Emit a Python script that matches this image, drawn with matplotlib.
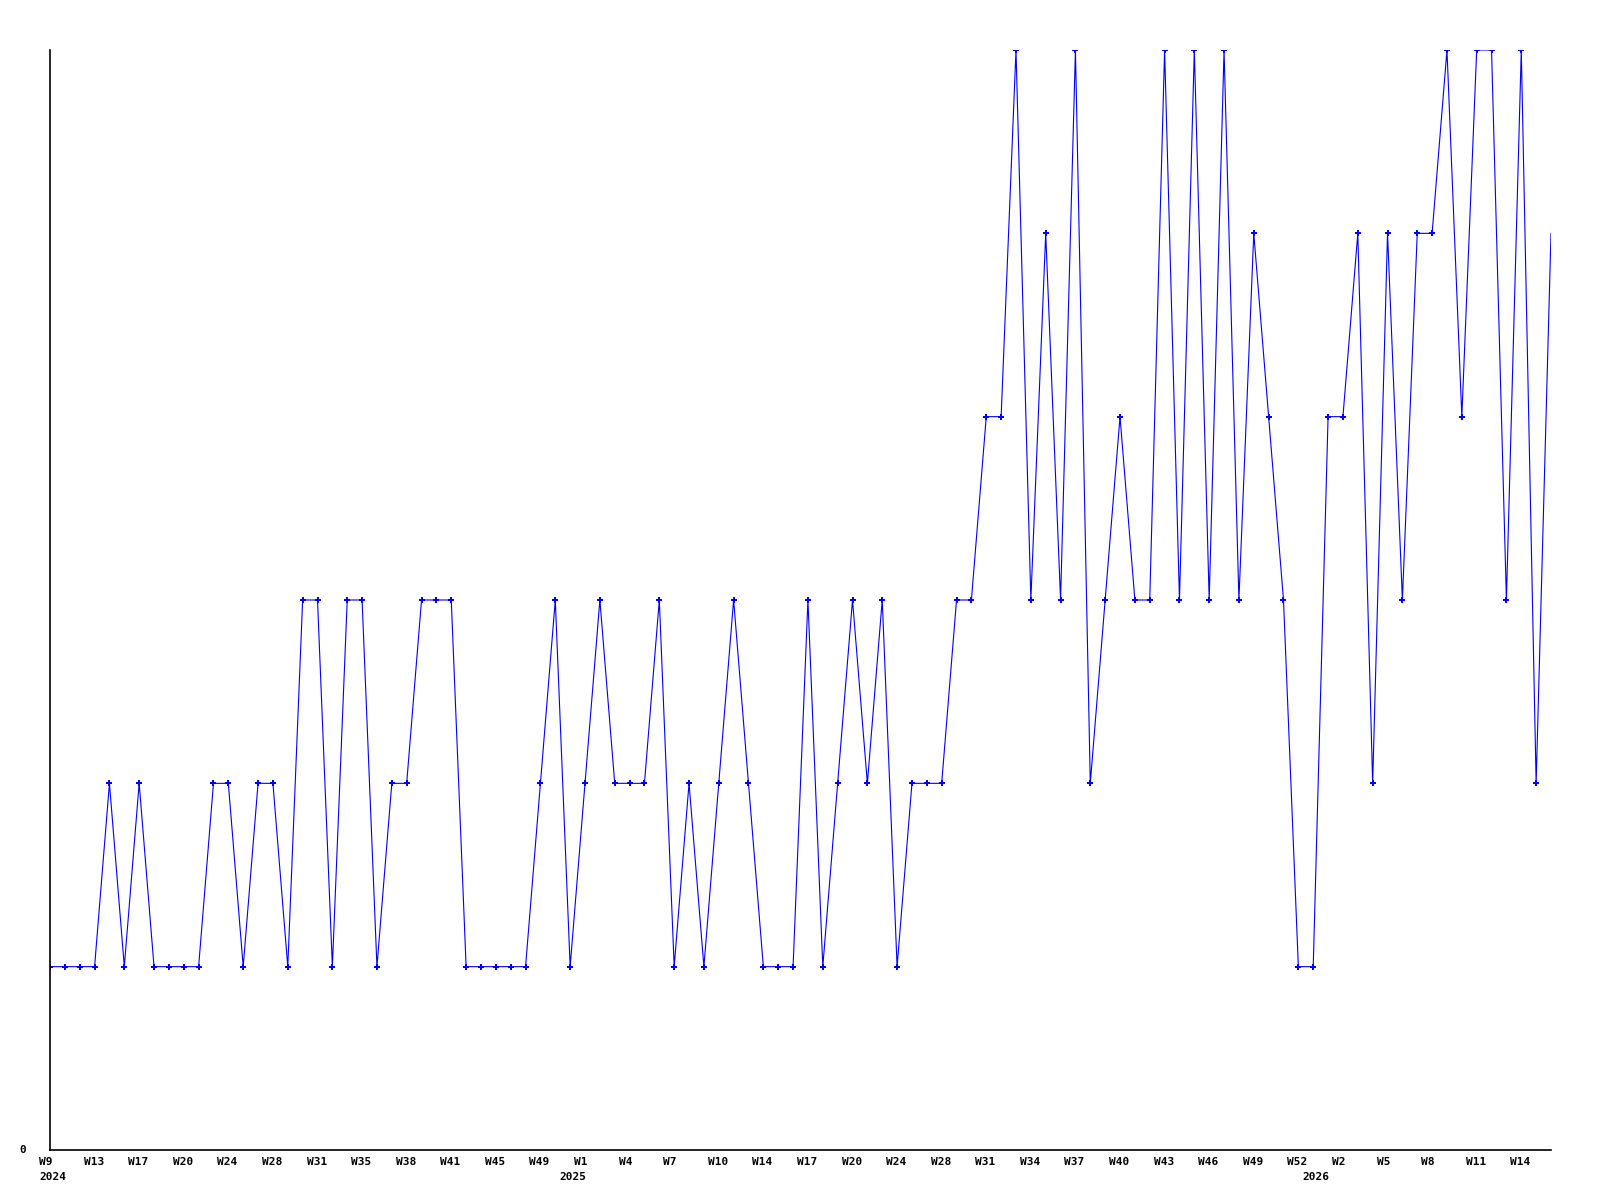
# grafico semanal: serie de conteos por semana ISO

import matplotlib
matplotlib.use("Agg")
import matplotlib.pyplot as plt
import numpy as np

# datos (un punto por muestra)
valores = [1, 1, 1, 1, 2, 1, 2, 1, 1, 1,
           1, 2, 2, 1, 2, 2, 1, 3, 3, 1,
           3, 3, 1, 2, 2, 3, 3, 3, 1, 1,
           1, 1, 1, 2, 3, 1, 2, 3, 2, 2,
           2, 3, 1, 2, 1, 2, 3, 2, 1, 1,
           1, 3, 1, 2, 3, 2, 3, 1, 2, 2,
           2, 3, 3, 4, 4, 6, 3, 5, 3, 6,
           2, 3, 4, 3, 3, 6, 3, 6, 3, 6,
           3, 5, 4, 3, 1, 1, 4, 4, 5, 2,
           5, 3, 5, 5, 6, 4, 6, 6, 3, 6,
           2, 5]

# etiquetas de semana, una cada 3 puntos
semanas = ["W9", "W13", "W17", "W20", "W24", "W28", "W31", "W35", "W38", "W41",
           "W45", "W49", "W1", "W4", "W7", "W10", "W14", "W17", "W20", "W24",
           "W28", "W31", "W34", "W37", "W40", "W43", "W46", "W49", "W52", "W2",
           "W5", "W8", "W11", "W14"]
paso_semana = 3

# etiquetas de anio y el punto donde empieza cada uno
anios = ["2024", "2025", "2026"]
inicio_anio = [0, 35, 85]

x = np.arange(len(valores))

fig = plt.figure(figsize=(16, 12), dpi=100)
ax = fig.add_axes([50 / 1600, 50 / 1200, 1501 / 1600, 1100 / 1200])

# el ultimo punto queda en el borde, sin marcador (como en el original)
ax.plot(x, valores, color="#0000ff", linewidth=0.8,
        marker="P", markersize=4.2, markeredgewidth=0,
        markevery=list(range(len(valores) - 1)))

ax.set_xlim(0, len(valores) - 1)
ax.set_ylim(0, max(valores))

for s in ["top", "right"]:
    ax.spines[s].set_visible(False)
for s in ["left", "bottom"]:
    ax.spines[s].set_linewidth(1.2)
    ax.spines[s].set_color("black")

ax.set_xticks([])
ax.set_yticks([])

fuente = dict(family="DejaVu Sans Mono", weight="bold", fontsize=8)
desp = matplotlib.transforms.offset_copy

# "0" del eje y
t0 = desp(ax.transData, fig=fig, x=-24, y=0, units="dots")
ax.text(0, 0, "0", transform=t0, ha="right", va="center", **fuente)

# semanas
ts = desp(ax.get_xaxis_transform(), fig=fig, x=-11, y=-12, units="dots")
for i, w in enumerate(semanas):
    ax.text(i * paso_semana, 0, w, transform=ts, ha="left", va="center",
            clip_on=False, **fuente)

# anios
ta = desp(ax.get_xaxis_transform(), fig=fig, x=-11, y=-27, units="dots")
for pos, a in zip(inicio_anio, anios):
    ax.text(pos, 0, a, transform=ta, ha="left", va="center",
            clip_on=False, **fuente)

plt.savefig("out.png", dpi=100)
